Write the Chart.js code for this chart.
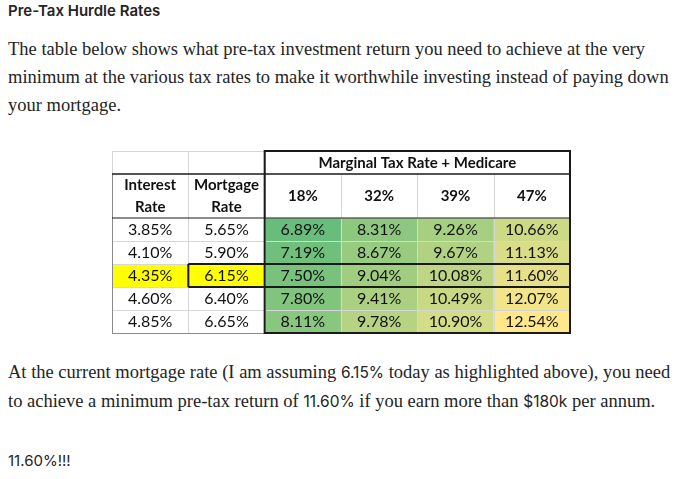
<!DOCTYPE html>
<html>
<head>
<meta charset="utf-8">
<script src="https://cdn.jsdelivr.net/npm/chart.js@4.4.1/dist/chart.umd.min.js"></script>
<style>
  html, body { margin: 0; padding: 0; background: #fff; }
  body { width: 680px; height: 479px; position: relative; overflow: hidden; color: #242424; }
  .title { position: absolute; left: 8px; top: 1px; font: 600 15px Inter, "Noto Sans", sans-serif; }
  .para { position: absolute; left: 8px; font-family: "Liberation Serif", serif; font-size: 18.5px; line-height: 28px; white-space: nowrap; }
  .sans { font-family: Inter, "Noto Sans", sans-serif; font-size: 15.5px; }
  #p1 { top: 35px; }
  #p2 { top: 358px; }
  .last { position: absolute; left: 8px; top: 451px; font: 15px Inter, "Noto Sans", sans-serif; }
  #wrap { position: absolute; left: 110px; top: 149px; width: 462px; height: 186px; }
</style>
</head>
<body>
<div class="title">Pre-Tax Hurdle Rates</div>
<div class="para" id="p1">The table below shows what pre-tax investment return you need to achieve at the very<br>minimum at the various tax rates to make it worthwhile investing instead of paying down<br>your mortgage.</div>
<div id="wrap"><canvas id="table"></canvas></div>
<div class="para" id="p2">At the current mortgage rate (I am assuming <span class="sans">6.15%</span> today as highlighted above), you need<br>to achieve a minimum pre-tax return of <span class="sans">11.60%</span> if you earn more than <span class="sans">$180k</span> per annum.</div>
<div class="last">11.60%!!!</div>
<script>
// table values
const taxRates = ['18%', '32%', '39%', '47%'];
const interestRates = [3.85, 4.10, 4.35, 4.60, 4.85];
const mortgageRates = [5.65, 5.90, 6.15, 6.40, 6.65];
const hurdle18 = [6.89, 7.19, 7.50, 7.80, 8.11];
const hurdle32 = [8.31, 8.67, 9.04, 9.41, 9.78];
const hurdle39 = [9.26, 9.67, 10.08, 10.49, 10.90];
const hurdle47 = [10.66, 11.13, 11.60, 12.07, 12.54];
const highlightRow = 2;

const hurdles = [hurdle18, hurdle32, hurdle39, hurdle47];
const allHurdles = hurdles.flat();
const hMin = Math.min(...allHurdles), hMax = Math.max(...allHurdles);
const green = [104, 189, 124], yellow = [255, 232, 138];
function scaleColor(v) {
  const t = (v - hMin) / (hMax - hMin);
  const c = green.map((g, i) => Math.round(g + (yellow[i] - g) * t));
  return 'rgb(' + c.join(',') + ')';
}
const pct = v => v.toFixed(2) + '%';

// one dataset per table row, stacked top to bottom
const columns = ['Interest Rate', 'Mortgage Rate'].concat(taxRates);
const rows = [];
rows.push({ h: 1, bg: columns.map(() => '#fff'), text: columns.map(() => ''), bold: true });
rows.push({ h: 44 / 23, bg: columns.map(() => '#fff'), text: [['Interest', 'Rate'], ['Mortgage', 'Rate']].concat(taxRates), bold: true });
interestRates.forEach((r, i) => {
  const hl = i === highlightRow;
  rows.push({
    h: 1,
    bg: [hl ? '#ffff00' : '#fff', hl ? '#ffff00' : '#fff'].concat(hurdles.map(s => scaleColor(s[i]))),
    text: [pct(r), pct(mortgageRates[i])].concat(hurdles.map(s => pct(s[i]))),
    bold: false
  });
});
const total = rows.reduce((a, r) => a + r.h, 0);

const tablePlugin = {
  id: 'tableText',
  afterDatasetsDraw(chart) {
    const ctx = chart.ctx;
    const metas = chart.data.datasets.map((d, i) => chart.getDatasetMeta(i));
    const colEdges = [];
    metas[0].data.forEach((el, j) => {
      if (j === 0) colEdges.push(el.x - el.width / 2);
      colEdges.push(el.x + el.width / 2);
    });
    const rowEdges = [];
    metas.forEach((m, i) => {
      const el = m.data[0];
      if (i === 0) rowEdges.push(Math.min(el.y, el.base));
      rowEdges.push(Math.max(el.y, el.base));
    });
    const L = colEdges[0], R = colEdges[6], T = rowEdges[0], B = rowEdges[rowEdges.length - 1];

    ctx.save();
    // light grid
    ctx.strokeStyle = '#d6d6d6';
    ctx.lineWidth = 1;
    ctx.beginPath();
    for (let j = 1; j < 6; j++) {
      const x = Math.round(colEdges[j]) + 0.5;
      const y0 = j >= 3 ? rowEdges[1] : T;
      ctx.moveTo(x, y0); ctx.lineTo(x, B);
    }
    for (let i = 3; i < rowEdges.length - 1; i++) {
      const y = Math.round(rowEdges[i]) + 0.5;
      ctx.moveTo(L, y); ctx.lineTo(R, y);
    }
    ctx.moveTo(L, Math.round(T) + 0.5); ctx.lineTo(colEdges[2], Math.round(T) + 0.5);
    ctx.moveTo(Math.round(L) + 0.5, T); ctx.lineTo(Math.round(L) + 0.5, rowEdges[1]);
    ctx.stroke();

    // darker outer edges
    ctx.strokeStyle = '#8a8a8a';
    ctx.beginPath();
    ctx.moveTo(Math.round(L) + 0.5, rowEdges[1]); ctx.lineTo(Math.round(L) + 0.5, B);
    ctx.moveTo(L, Math.round(B) + 0.5); ctx.lineTo(R, Math.round(B) + 0.5);
    ctx.stroke();

    // black rules
    ctx.strokeStyle = '#1a1a1a';
    ctx.lineWidth = 1.5;
    ctx.beginPath();
    ctx.moveTo(L, rowEdges[1]); ctx.lineTo(R, rowEdges[1]);
    ctx.stroke();
    ctx.lineWidth = 1.2;
    ctx.beginPath();
    ctx.moveTo(L, rowEdges[2]); ctx.lineTo(R, rowEdges[2]);
    ctx.stroke();
    ctx.lineWidth = 2;
    ctx.strokeRect(colEdges[2], T, R - colEdges[2], B - T);
    const hT = rowEdges[2 + highlightRow], hB = rowEdges[3 + highlightRow];
    ctx.beginPath();
    ctx.moveTo(colEdges[1], hT); ctx.lineTo(R, hT);
    ctx.moveTo(colEdges[1], hB); ctx.lineTo(R, hB);
    ctx.moveTo(colEdges[1], hT); ctx.lineTo(colEdges[1], hB);
    ctx.stroke();

    // cell text
    ctx.fillStyle = '#111';
    ctx.textAlign = 'center';
    ctx.textBaseline = 'middle';
    metas.forEach((m, i) => {
      const row = rows[i];
      ctx.font = (row.bold ? 'bold 15px' : '16px') + ' Lato, "Open Sans", sans-serif';
      m.data.forEach((el, j) => {
        const t = row.text[j];
        const cy = (el.y + el.base) / 2;
        if (Array.isArray(t)) {
          ctx.fillText(t[0], el.x, cy - 11);
          ctx.fillText(t[1], el.x, cy + 11);
        } else if (t) {
          ctx.fillText(t, el.x, cy + 0.5);
        }
      });
    });
    ctx.font = 'bold 15px Lato, "Open Sans", sans-serif';
    ctx.fillText('Marginal Tax Rate + Medicare', (colEdges[2] + R) / 2, (rowEdges[0] + rowEdges[1]) / 2 + 0.5);
    ctx.restore();
  }
};

new Chart(document.getElementById('table'), {
  type: 'bar',
  data: {
    labels: columns,
    datasets: rows.map(r => ({
      data: columns.map(() => r.h),
      backgroundColor: r.bg,
      borderWidth: 0,
      barPercentage: 1,
      categoryPercentage: 1
    }))
  },
  options: {
    responsive: true,
    maintainAspectRatio: false,
    animation: false,
    layout: { padding: 2 },
    plugins: { legend: { display: false }, tooltip: { enabled: false } },
    scales: {
      x: { stacked: true, display: false },
      y: { stacked: true, display: false, reverse: true, min: 0, max: total }
    }
  },
  plugins: [tablePlugin]
});
</script>
</body>
</html>
